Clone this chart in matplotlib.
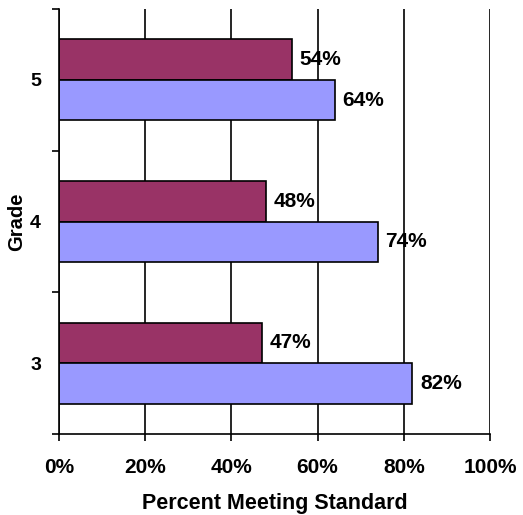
import matplotlib
matplotlib.use("Agg")
import matplotlib.pyplot as plt
import numpy as np

grades = ["3", "4", "5"]
series_top = [47, 48, 54]      # maroon bars
series_bottom = [82, 74, 64]   # lavender bars
x_ticks = [0, 20, 40, 60, 80, 100]
x_tick_labels = ["0%", "20%", "40%", "60%", "80%", "100%"]

plt.rcParams["font.family"] = ["Liberation Sans", "DejaVu Sans"]
plt.rcParams["font.weight"] = "bold"

FS = 15

fig = plt.figure(figsize=(5.23, 5.15), dpi=100)
ax = fig.add_axes([59 / 523, 1 - 434 / 515, (490 - 59) / 523, (434 - 9) / 515])

y = np.arange(len(grades))
h = 0.285
ax.barh(y + h / 2, series_top, height=h, color="#993366", edgecolor="black",
        linewidth=1.2, zorder=3)
ax.barh(y - h / 2, series_bottom, height=h, color="#9999FF", edgecolor="black",
        linewidth=1.2, zorder=3)

for yi, v in zip(y + h / 2, series_top):
    ax.annotate(f"{v}%", (v, yi), xytext=(5.5, 0), textcoords="offset points",
                va="center", ha="left", fontsize=FS, fontweight="bold", zorder=4)
for yi, v in zip(y - h / 2, series_bottom):
    ax.annotate(f"{v}%", (v, yi), xytext=(5.5, 0), textcoords="offset points",
                va="center", ha="left", fontsize=FS, fontweight="bold", zorder=4)

ax.set_xlim(0, 100)
ax.set_ylim(-0.5, 2.5)
ax.set_xticks(x_ticks)
ax.set_xticklabels(x_tick_labels, fontsize=FS, fontweight="bold")
ax.set_yticks(y)
ax.set_yticklabels(grades, fontsize=14, fontweight="bold")
ax.set_yticks([-0.5, 0.5, 1.5, 2.5], minor=True)
ax.tick_params(axis="y", which="major", length=0, pad=13)
ax.tick_params(axis="y", which="minor", length=5, width=1.2, direction="out")
ax.tick_params(axis="x", which="major", length=5, width=1.2, direction="out", pad=12)

ax.grid(axis="x", color="black", linewidth=1.2, zorder=0)
ax.set_axisbelow(True)
for s in ["top", "right"]:
    ax.spines[s].set_visible(False)
for s in ["left", "bottom"]:
    ax.spines[s].set_linewidth(1.2)
    ax.spines[s].set_zorder(5)

ax.set_xlabel("Percent Meeting Standard", fontsize=15.5, fontweight="bold", labelpad=12)
ax.set_ylabel("Grade", fontsize=14.5, fontweight="bold", labelpad=2.5)

fig.savefig("out.png", dpi=100)
